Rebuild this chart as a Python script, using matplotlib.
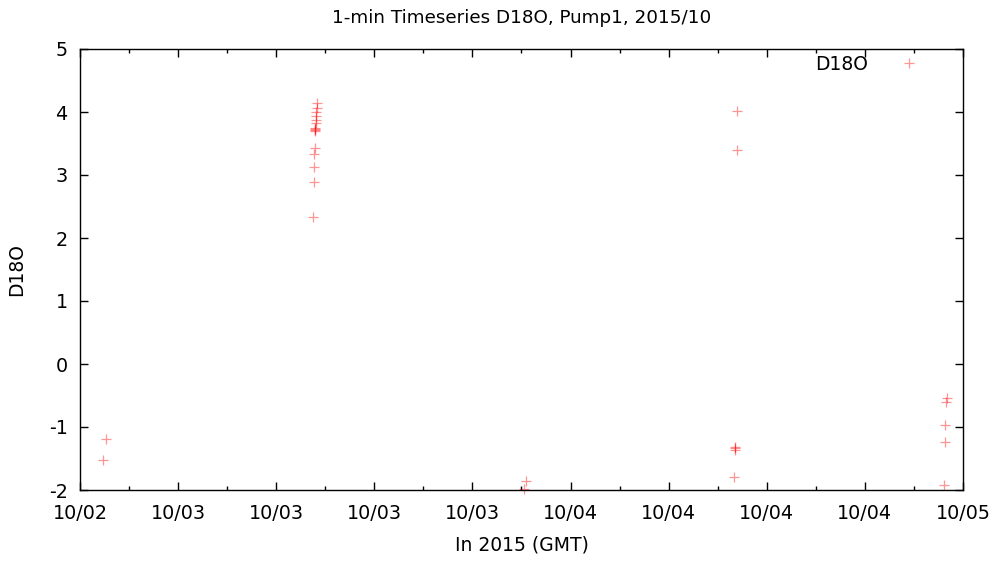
import matplotlib
matplotlib.use("Agg")
import matplotlib.pyplot as plt
import matplotlib.dates as mdates
import pandas as pd

plt.rcParams['font.family'] = ['DejaVu Sans']
plt.rcParams['axes.unicode_minus'] = False

times = [
    "2015-10-02 19:25", "2015-10-02 19:34",
    "2015-10-03 08:16", "2015-10-03 08:17", "2015-10-03 08:18", "2015-10-03 08:20",
    "2015-10-03 08:21", "2015-10-03 08:23", "2015-10-03 08:23", "2015-10-03 08:24",
    "2015-10-03 08:24", "2015-10-03 08:25", "2015-10-03 08:25", "2015-10-03 08:26",
    "2015-10-03 08:27", "2015-10-03 08:28", "2015-10-03 08:29",
    "2015-10-03 21:10", "2015-10-03 21:17",
    "2015-10-04 09:58", "2015-10-04 10:03", "2015-10-04 10:04", "2015-10-04 10:05",
    "2015-10-04 10:10", "2015-10-04 10:10",
    "2015-10-04 22:50", "2015-10-04 22:54", "2015-10-04 22:55", "2015-10-04 22:57",
    "2015-10-04 23:02",
]
d18o = [
    -1.53, -1.195,
    2.33, 2.89, 3.12, 3.33,
    3.43, 3.70, 3.72, 3.73,
    3.74, 3.82, 3.87, 3.94,
    4.00, 4.06, 4.14,
    -1.99, -1.857,
    -1.80, -1.37, -1.34, -1.31,
    3.40, 4.01,
    -1.92, -1.24, -0.97, -0.60,
    -0.54,
]

title = "1-min Timeseries D18O, Pump1, 2015/10"
xlabel = "In 2015 (GMT)"
ylabel = "D18O"
series_name = "D18O"
x_start = "2015-10-02 18:00"
x_end = "2015-10-05 00:00"

t = pd.to_datetime(times)

fig = plt.figure(figsize=(9.98, 5.65), dpi=100)
ax = fig.add_axes([80/998, 75/565, 883/998, 441/565])

ax.plot(t, d18o, linestyle='none', marker='+', markersize=7.5, markeredgewidth=0.9,
        color=(1.0, 0.0, 0.0), alpha=0.42, label=series_name, clip_on=False)

ax.set_xlim(pd.Timestamp(x_start), pd.Timestamp(x_end))
ax.set_ylim(-2, 5)
ax.xaxis.set_major_locator(mdates.HourLocator(byhour=[0, 6, 12, 18]))
ax.xaxis.set_minor_locator(mdates.HourLocator(byhour=[3, 9, 15, 21]))
ax.xaxis.set_major_formatter(mdates.DateFormatter("%m/%d"))
ax.set_yticks(range(-2, 6))

for s in ax.spines.values():
    s.set_linewidth(1.0)
    s.set_color('black')
ax.tick_params(which='both', direction='in', top=True, right=True, labelsize=13.8)
ax.tick_params(axis='x', pad=10)
ax.tick_params(axis='y', pad=9)
ax.tick_params(which='major', length=6, width=1)
ax.tick_params(which='minor', length=3, width=1)

ax.set_title(title, fontsize=13.2, pad=19)
ax.set_xlabel(xlabel, fontsize=13.5, labelpad=9)
ax.set_ylabel(ylabel, fontsize=13.5, labelpad=16)

ax.legend(loc='upper right', markerfirst=False, frameon=False, fontsize=13.5,
          handlelength=2.0, handletextpad=1.2, borderaxespad=0.0, borderpad=0.0,
          bbox_to_anchor=((928 - 80) / 883, (490 - 55) / 441))

fig.savefig("out.png", dpi=100)
